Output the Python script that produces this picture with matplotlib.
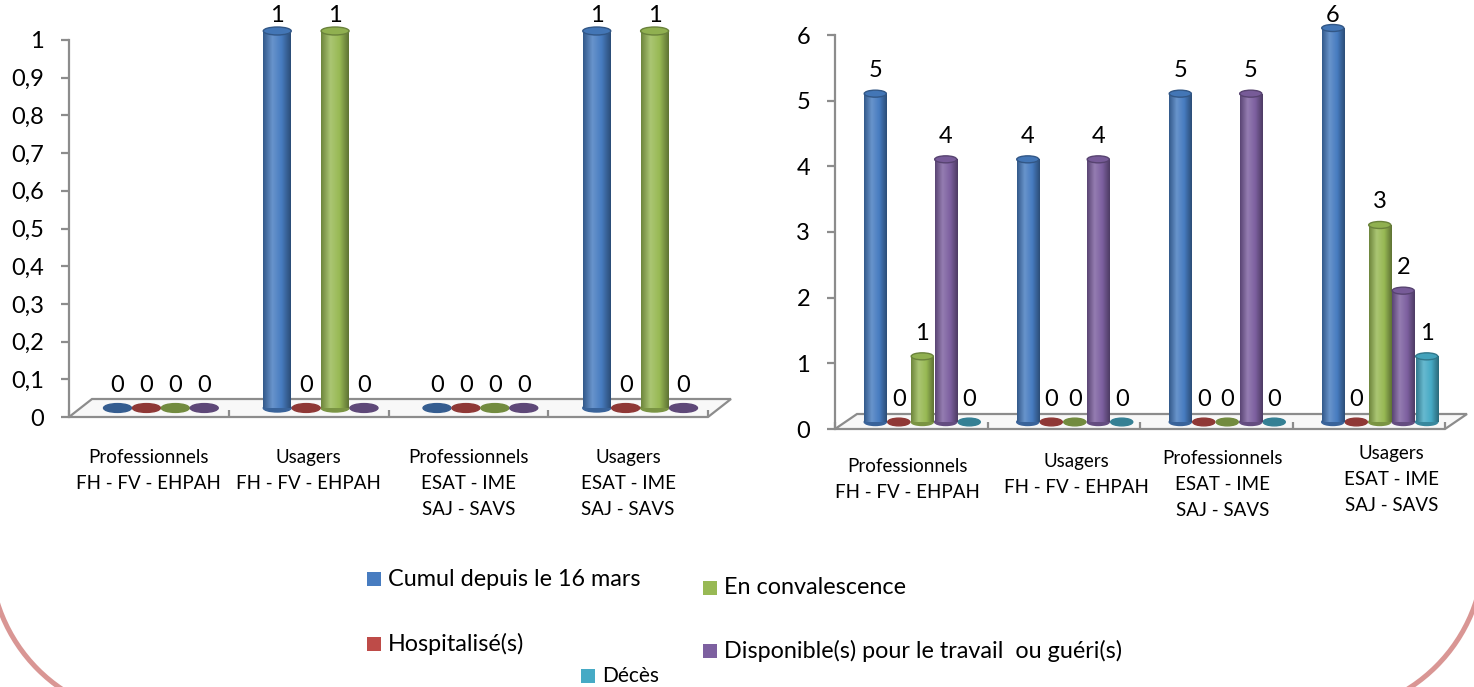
import numpy as np
import matplotlib
matplotlib.use("Agg")
import matplotlib.pyplot as plt
from matplotlib import transforms
from matplotlib.patches import Ellipse, Rectangle, Polygon, Arc
from matplotlib.colors import LinearSegmentedColormap, to_rgb

plt.rcParams["font.family"] = ["Lato", "DejaVu Sans"]

# ---- data -------------------------------------------------------------
SERIES = ["Cumul depuis le 16 mars", "Hospitalisé(s)", "En convalescence",
          "Disponible(s) pour le travail  ou guéri(s)", "Décès"]
COLORS = ["#477cc0", "#be4b48", "#98b954", "#7d60a0", "#46aac5"]

CATEGORIES = ["Professionnels\nFH - FV - EHPAH",
              "Usagers\nFH - FV - EHPAH",
              "Professionnels\nESAT - IME\nSAJ - SAVS",
              "Usagers\nESAT - IME\nSAJ - SAVS"]

# left chart (no "Décès" series)
LEFT_CUMUL = [0, 1, 0, 1]
LEFT_HOSP = [0, 0, 0, 0]
LEFT_CONV = [0, 1, 0, 1]
LEFT_DISPO = [0, 0, 0, 0]
LEFT_TICKS = [0, 0.1, 0.2, 0.3, 0.4, 0.5, 0.6, 0.7, 0.8, 0.9, 1]

# right chart
RIGHT_CUMUL = [5, 4, 5, 6]
RIGHT_HOSP = [0, 0, 0, 0]
RIGHT_CONV = [1, 0, 0, 3]
RIGHT_DISPO = [4, 4, 5, 2]
RIGHT_DECES = [0, 0, 0, 1]
RIGHT_TICKS = [0, 1, 2, 3, 4, 5, 6]

W, H = 1474, 687
GRAY = "#8c8c8c"
TEXT = "#000000"


def shade(c, f):
    r = np.array(to_rgb(c))
    if f < 1:
        return tuple(r * f)
    return tuple(r + (1 - r) * (f - 1))


def fig_rect(x0, y0, x1, y1):
    # pixel box (top-left origin) -> figure fraction
    return [x0 / W, 1 - y1 / H, (x1 - x0) / W, (y1 - y0) / H]


def draw_panel(fig, ax, series, ticks, step, bar_w, dx, dy, depth, cap_px, lab_off,
               label_shift=None):
    n = len(series)
    ax.set_xlim(-0.5, len(CATEGORIES) - 0.5)
    ax.set_ylim(ticks[0], ticks[-1])
    ax.set_autoscale_on(False)

    ppu = ax.get_window_extent().height / (ticks[-1] - ticks[0])
    cap_h = cap_px / ppu
    trans = transforms.offset_copy(ax.transData, fig=fig, x=dx, y=dy, units="dots")
    grad = np.linspace(0, 1, 64)[None, :]

    for si, vals in enumerate(series):
        col = COLORS[si]
        cmap = LinearSegmentedColormap.from_list(
            "c%d" % si, [shade(col, 0.72), shade(col, 1.18), shade(col, 1.0), shade(col, 0.62)])
        xs = np.arange(len(vals)) + (si - (n - 1) / 2) * step
        bars = ax.bar(xs, vals, width=bar_w, color=col, transform=trans,
                      clip_on=False, zorder=3, linewidth=0)
        for x, v, b in zip(xs, vals, bars):
            if v == 0:
                ax.add_patch(Ellipse((x, 0), bar_w, cap_h * 1.1, transform=trans,
                                     color=shade(col, 0.75), zorder=3, clip_on=False))
            else:
                ax.add_patch(Ellipse((x, 0), bar_w, cap_h, transform=trans,
                                     color=shade(col, 0.8), zorder=2.9, clip_on=False))
                im = ax.imshow(grad, cmap=cmap, extent=(x - bar_w / 2, x + bar_w / 2, 0, v),
                               aspect="auto", transform=trans, zorder=3.1,
                               interpolation="bilinear")
                im.set_clip_path(b)
                ax.add_patch(Ellipse((x, v), bar_w, cap_h, transform=trans,
                                     facecolor=shade(col, 0.95), edgecolor=shade(col, 0.7),
                                     linewidth=1, zorder=3.2, clip_on=False))
            # keep labels inside the picture, as Excel does near the top
            top = ax.transData.transform((x, v))[1] + dy
            off = min(lab_off, H - 16 - top)
            ax.annotate(str(v), (x, v), xytext=(dx, dy + off), textcoords="offset pixels",
                        ha="center", va="center", fontsize=17, color=TEXT,
                        annotation_clip=False, zorder=4)

    # floor of the 3D plot (drawn under the axes)
    fl = ax.transData.transform([(-0.5, 0), (len(CATEGORIES) - 0.5, 0)])
    poly = np.array([fl[0], fl[1], fl[1] + [depth[0], depth[1]], fl[0] + [depth[0], depth[1]]])
    fig.add_artist(Polygon(poly, closed=True, transform=transforms.IdentityTransform(),
                           facecolor="#f8f8f8", edgecolor=GRAY, linewidth=1.6, zorder=-1))

    for side in ("top", "right", "bottom"):
        ax.spines[side].set_visible(False)
    ax.spines["left"].set_color(GRAY)
    ax.spines["left"].set_linewidth(1.6)
    ax.patch.set_alpha(0)

    ax.set_yticks(ticks)
    ax.set_yticklabels([("%g" % t).replace(".", ",") for t in ticks])
    ax.tick_params(axis="y", colors=GRAY, labelcolor=TEXT, labelsize=17,
                   length=6, width=1.6, pad=12)
    ax.set_xticks(range(len(CATEGORIES)))
    ax.set_xticklabels(CATEGORIES, fontsize=13.5, linespacing=1.65)
    ax.set_xticks(np.arange(len(CATEGORIES) + 1) - 0.5, minor=True)
    ax.tick_params(axis="x", which="major", length=0, pad=23, labelcolor=TEXT)
    ax.tick_params(axis="x", which="minor", direction="in", length=5,
                   width=1.6, color=GRAY)
    if label_shift:
        # Excel staggers the category labels a little on this chart
        for lab, (sx, sy) in zip(ax.get_xticklabels(), label_shift):
            lab.set_transform(lab.get_transform() +
                              transforms.ScaledTranslation(sx / 100, sy / 100, fig.dpi_scale_trans))


fig = plt.figure(figsize=(W / 100, H / 100), dpi=100)
fig.patch.set_facecolor("white")

ax1 = fig.add_axes(fig_rect(69, 40, 708, 417))
draw_panel(fig, ax1, [LEFT_CUMUL, LEFT_HOSP, LEFT_CONV, LEFT_DISPO], LEFT_TICKS,
           step=0.181, bar_w=0.175, dx=12, dy=9, depth=(23, 18), cap_px=8, lab_off=22)

ax2 = fig.add_axes(fig_rect(835, 35, 1445, 429))
draw_panel(fig, ax2, [RIGHT_CUMUL, RIGHT_HOSP, RIGHT_CONV, RIGHT_DISPO, RIGHT_DECES],
           RIGHT_TICKS, step=0.154, bar_w=0.145, dx=11, dy=7, depth=(22, 15),
           cap_px=7, lab_off=23,
           label_shift=[(-4, 3), (13, 8), (6, 11), (23, 16)])

# legend, laid out as in the original
legend_pos = [(367, 579), (367, 644), (703, 588), (703, 651), (581, 676)]
for (lx, ly), name, col in zip(legend_pos, SERIES, COLORS):
    fig.add_artist(Rectangle((lx / W, 1 - (ly + 7) / H), 14 / W, 14 / H,
                             transform=fig.transFigure, facecolor=col, edgecolor="none"))
    fig.text((lx + 21) / W, 1 - ly / H, name, fontsize=16.8 if name != "Décès" else 15,
             va="center", ha="left", color=TEXT)

# bottom corners of the rounded page frame
for cx, cy, t1, t2 in [(153, H - 554, 180, 270), (1321, H - 551, 270, 360)]:
    fig.add_artist(Arc((cx, cy), 326, 326, theta1=t1, theta2=t2,
                       transform=transforms.IdentityTransform(),
                       edgecolor="#d99694", linewidth=3.6))

fig.savefig("out.png", dpi=100, facecolor="white")
